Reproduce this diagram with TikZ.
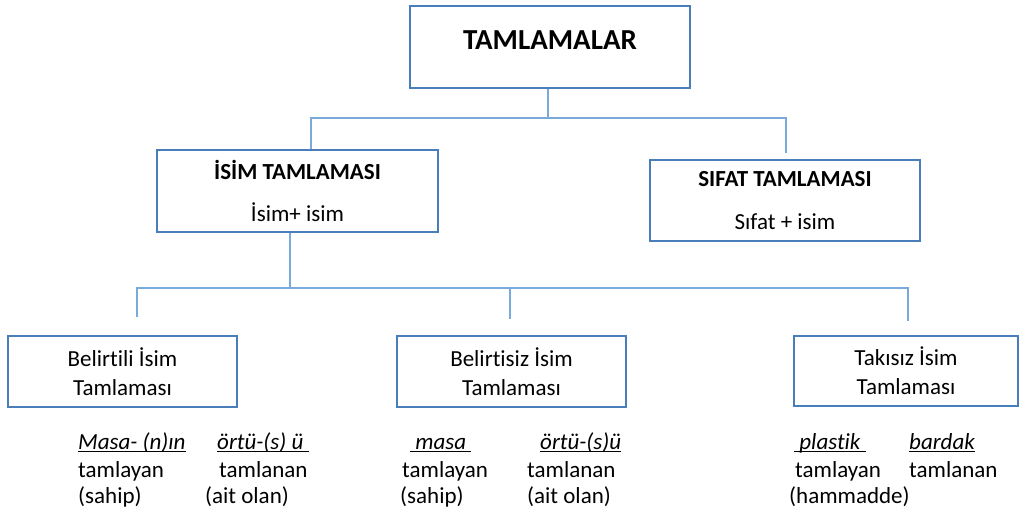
\documentclass[tikz,border=0pt]{standalone}
\usepackage{fontspec}
\setmainfont{Carlito}[Ligatures={NoCommon}]
\usetikzlibrary{calc}
\definecolor{boxline}{RGB}{74,126,187}
\definecolor{linkline}{RGB}{120,170,220}
% italic word with a rule underneath
\newcommand\ulword[1]{\setbox0\hbox{\itshape #1}\rlap{\rule[-3pt]{\wd0}{1.1pt}}\box0}
\begin{document}
\begin{tikzpicture}[x=1pt,y=-1pt,
  box/.style={draw=boxline,line width=1.4pt,rectangle,inner sep=0pt},
  conn/.style={draw=linkline,line width=1.3pt},
  words/.style={anchor=base west,inner sep=0pt,font=\fontsize{23}{27}\selectfont}]
\useasboundingbox (0,0) rectangle (1019,515);

% boxes
\node[box,minimum width=280pt,minimum height=82pt,font=\fontsize{29}{34}\selectfont\bfseries,
      text height=20pt,text depth=15pt] (top) at (550,47) {TAMLAMALAR};
\node[box,align=center,minimum width=281pt,minimum height=82pt,font=\fontsize{23}{42}\selectfont]
      (isim) at (297.5,191) {\textbf{İSİM TAMLAMASI}\\İsim+ isim};
\node[box,align=center,minimum width=270pt,minimum height=81pt,font=\fontsize{23}{43}\selectfont]
      (sifat) at (785,200.5) {\textbf{SIFAT TAMLAMASI}\\Sıfat + isim};
\node[box,align=center,minimum width=229pt,minimum height=71pt,font=\fontsize{23}{29}\selectfont]
      (belirtili) at (122.5,371.5) {Belirtili İsim\\Tamlaması};
\node[box,align=center,minimum width=229pt,minimum height=71pt,font=\fontsize{23}{29}\selectfont]
      (belirtisiz) at (511.5,371.5) {Belirtisiz İsim\\Tamlaması};
\node[box,align=center,minimum width=224pt,minimum height=70pt,font=\fontsize{23}{29}\selectfont]
      (takisiz) at (906,371) {Takısız İsim\\Tamlaması};

% upper connectors
\coordinate (tapTop) at (548,118);
\coordinate (busL) at (311,118);
\coordinate (busR) at (786,118);
\draw[conn] (top.south -| tapTop) -- (tapTop);
\draw[conn,shorten >=6pt] (isim.north -| busL) -- (busL) -- (busR) -- (sifat.north -| busR);

% lower connectors
\coordinate (tapIsim) at (290,288);
\coordinate (bus2L) at (137,288);
\coordinate (bus2M) at (510,288);
\coordinate (bus2R) at (908,288);
\draw[conn] (isim.south -| tapIsim) -- (tapIsim);
\draw[conn,shorten <=18pt,shorten >=14pt] (belirtili.north -| bus2L) -- (bus2L) -- (bus2R) -- (takisiz.north -| bus2R);
\draw[conn,shorten >=16pt] (bus2M) -- (belirtisiz.north -| bus2M);

% examples under each box
\node[words] (w1a) at (78,449) {\ulword{Masa- (n)ın}};
\node[words] (w1b) at (78,477) {tamlayan};
\node[words] (w1c) at (78,503) {(sahip)};
\node[words] (w2a) at (217,449) {\ulword{örtü-(s) ü\ }};
\node[words] (w2b) at (219,477) {tamlanan};
\node[words] (w2c) at (205,503) {(ait olan)};
\node[words] (w3a) at (410,449) {\ulword{\ masa\ }};
\node[words] (w3b) at (402,477) {tamlayan};
\node[words] (w3c) at (400,503) {(sahip)};
\node[words] (w4a) at (540,449) {\ulword{örtü-(s)ü}};
\node[words] (w4b) at (527,477) {tamlanan};
\node[words] (w4c) at (527,503) {(ait olan)};
\node[words] (w5a) at (794,449) {\ulword{\ plastik\ }};
\node[words] (w5b) at (795,477) {tamlayan};
\node[words] (w5c) at (789,503) {(hammadde)};
\node[words] (w6a) at (909,449) {\ulword{bardak}};
\node[words] (w6b) at (909,477) {tamlanan};
\end{tikzpicture}
\end{document}
